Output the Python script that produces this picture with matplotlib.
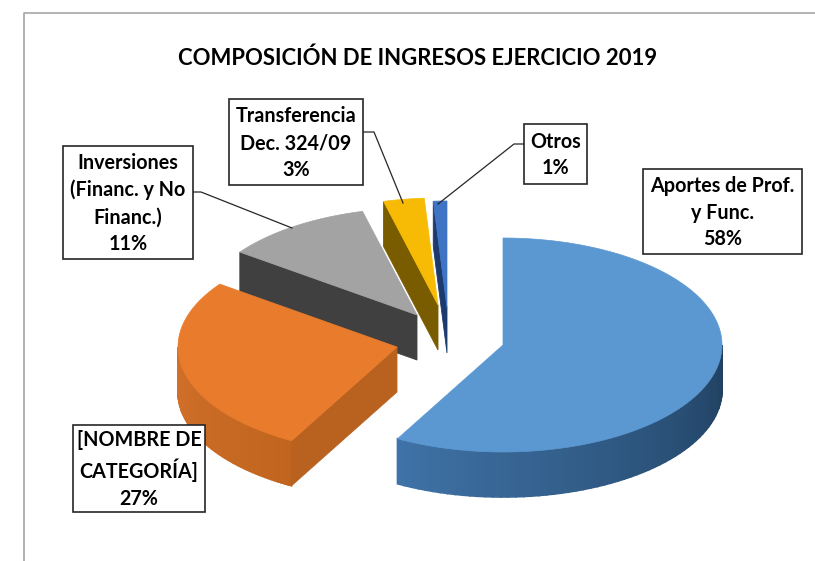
import numpy as np
import matplotlib
matplotlib.use("Agg")
import matplotlib.pyplot as plt
from matplotlib.colors import to_rgb

title = "COMPOSICIÓN DE INGRESOS EJERCICIO 2019"
categories = ["Aportes de Prof.\ny Func.", "[NOMBRE DE\nCATEGORÍA]",
              "Inversiones\n(Financ. y No\nFinanc.)", "Transferencia\nDec. 324/09", "Otros"]
values = [58, 27, 11, 3, 1]

# exploded centres of each slice, pixels
centers = [(503, 345), (397, 347), (417, 315), (438, 305), (447, 308)]
top_colors = ["#5b98d2", "#e97b2c", "#a3a3a3", "#f7bb05", "#3f74c4"]
wall_colors = ["#2c5580", "#b9621f", "#404040", "#7a5c00", "#1c3a6e"]
rim_left = ["#3f72a6", "#d2702a", "#7a7a7a", "#a07c00", "#2a5596"]
rim_right = ["#1f3f5e", "#c0651f", "#5a5a5a", "#806000", "#1c3a6e"]
boxes = [(643, 169, 802, 254), (73, 425, 205, 512), (63, 146, 193, 259),
         (229, 99, 363, 185), (524, 124, 587, 184)]
leaders = [None, None,
           ([193, 201, 292], [192, 192, 228]),
           ([363, 374, 403], [132, 132, 203]),
           ([524, 514, 438], [144, 144, 204])]

rx, ry, depth = 219, 107, 45

plt.rcParams['font.family'] = ['Lato', 'DejaVu Sans']
fig = plt.figure(figsize=(8.15, 5.61), dpi=100)
ax = fig.add_axes([0, 0, 1, 1])
ax.set_xlim(0, 815)
ax.set_ylim(561, 0)
ax.axis('off')

# chart border, only top and left are visible
ax.plot([24, 24, 815], [561, 13, 13], color='#a6a6a6', lw=1.2, zorder=1)


def arc(cx, cy, a0, a1, n=120):
    t = np.radians(np.linspace(a0, a1, n))
    return cx + rx * np.sin(t), cy - ry * np.cos(t)


edges = np.cumsum([0] + values) / sum(values) * 360

# back slices first, so the nearer ones cover their walls
for i in [4, 3, 2, 1, 0]:
    cx, cy = centers[i]
    a0, a1 = edges[i], edges[i + 1]
    z = 2 + (4 - i)

    # outer rim, only the part facing the viewer
    r0, r1 = max(a0, 90), min(a1, 270)
    if r1 > r0:
        steps = np.linspace(r0, r1, 60)
        c_right, c_left = np.array(to_rgb(rim_right[i])), np.array(to_rgb(rim_left[i]))
        for k in range(len(steps) - 1):
            xs, ys = arc(cx, cy, steps[k], steps[k + 1], 2)
            f = k / (len(steps) - 2)
            col = c_right + (c_left - c_right) * f
            ax.fill([xs[0], xs[1], xs[1], xs[0]],
                    [ys[0], ys[1], ys[1] + depth, ys[0] + depth],
                    color=col, lw=1.2, zorder=z)

    # flat wall from the rim to the apex, the big slice shows none
    if i > 0:
        xs, ys = arc(cx, cy, a0, a0, 1)
        ax.fill([xs[0], cx, cx, xs[0]], [ys[0], cy, cy + depth, ys[0] + depth],
                color=wall_colors[i], lw=0.6, zorder=z)

    # top face
    xs, ys = arc(cx, cy, a0, a1)
    ax.fill(np.r_[cx, xs], np.r_[cy, ys], color=top_colors[i], lw=0.5, zorder=z)

ax.text(418, 58, title, ha='center', va='center', fontsize=15.9, fontweight='bold',
        color='black', zorder=10)

for i in range(len(values)):
    x0, y0, x1, y1 = boxes[i]
    ax.fill([x0, x1, x1, x0], [y0, y0, y1, y1], facecolor='white', edgecolor='#262626',
            lw=1.2, zorder=8)
    ax.text((x0 + x1) / 2, (y0 + y1) / 2 + 1, categories[i] + "\n%d%%" % values[i], ha='center',
            va='center', fontsize=14.2, fontweight='bold', linespacing=1.43,
            color='black', zorder=9)
    if leaders[i] is not None:
        ax.plot(leaders[i][0], leaders[i][1], color='#262626', lw=0.9, zorder=7)

fig.savefig('out.png', dpi=100)
